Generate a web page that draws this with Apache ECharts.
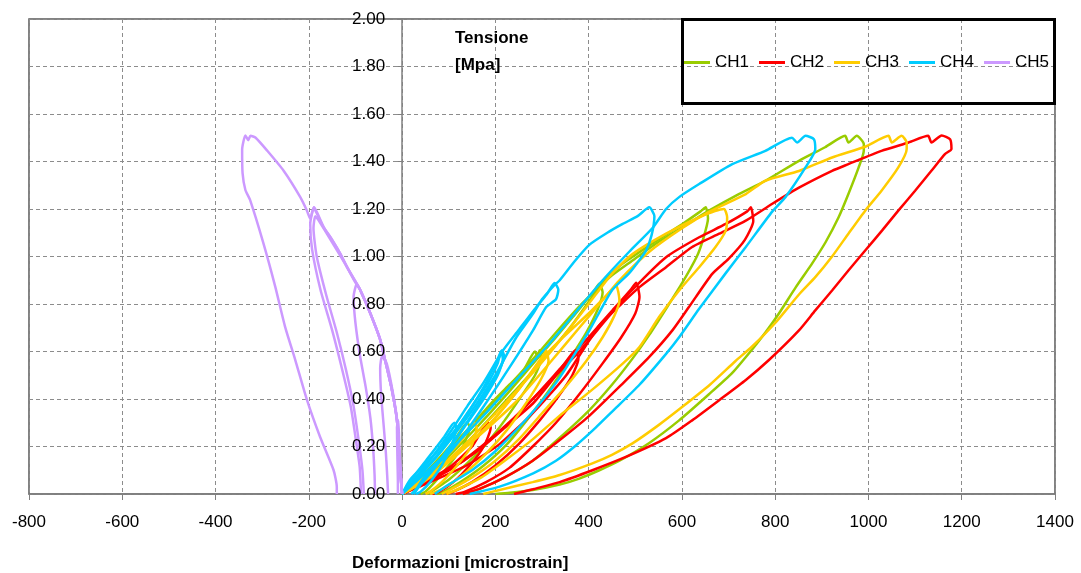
<!DOCTYPE html>
<html>
<head>
<meta charset="utf-8">
<script src="https://cdn.jsdelivr.net/npm/echarts@6/dist/echarts.min.js"></script>
<style>
html,body{margin:0;padding:0;background:#fff;}
#chart{width:1081px;height:573px;}
</style>
</head>
<body>
<div id="chart"></div>
<script>
// ---- DATA ----
const channelNames = ['CH1', 'CH2', 'CH3', 'CH4', 'CH5'];
const xTicks = { min: -800, max: 1400, step: 200 };
const yTicks = { min: 0, max: 2, step: 0.2 };

// CH1 (green): cycles to 0.3, 0.6, 0.9, 1.2, 1.5 MPa  [strain, stress]
const ch1Cycles = [
  [[0,0],[30,0.05],[70,0.13],[110,0.22],[140,0.3],[145,0.28],[130,0.2],[100,0.12],[70,0.05],[50,0.01],[40,0]],
  [[0,0],[30,0.04],[66,0.12],[110,0.21],[150,0.29],[190,0.38],[230,0.46],[260,0.52],[285,0.6],[290,0.58],[295,0.605],[298,0.57],[285,0.5],[255,0.41],[220,0.31],[180,0.21],[140,0.13],[100,0.06],[70,0.02],[55,0]],
  [[0,0],[30,0.04],[80,0.13],[140,0.26],[200,0.39],[250,0.5],[295,0.6],[330,0.68],[380,0.79],[410,0.85],[423,0.885],[430,0.85],[420,0.78],[395,0.68],[360,0.57],[320,0.45],[275,0.33],[225,0.21],[175,0.12],[125,0.05],[90,0.01],[75,0]],
  [[0,0],[30,0.04],[80,0.12],[150,0.26],[220,0.41],[290,0.57],[330,0.66],[366,0.745],[423,0.88],[473,0.97],[544,1.064],[601,1.137],[640,1.19],[651,1.207],[656,1.16],[645,1.07],[632,1.0],[601,0.89],[566,0.78],[530,0.67],[494,0.57],[450,0.46],[400,0.35],[340,0.24],[280,0.14],[220,0.07],[170,0.025],[130,0]],
  [[0,0],[40,0.05],[100,0.14],[170,0.28],[240,0.43],[300,0.56],[360,0.7],[423,0.87],[445,0.913],[494,0.983],[544,1.054],[601,1.123],[658,1.193],[722,1.263],[779,1.319],[851,1.403],[907,1.46],[950,1.508],[957,1.48],[975,1.508],[990,1.474],[990,1.445],[979,1.375],[957,1.263],[936,1.165],[908,1.06],[879,0.97],[844,0.87],[808,0.76],[779,0.68],[751,0.61],[708,0.51],[658,0.42],[594,0.31],[530,0.215],[466,0.14],[423,0.1],[380,0.065],[338,0.04],[280,0.017],[231,0.005],[200,0]]
];

// CH2 (red)
const ch2Cycles = [
  [[0,0],[40,0.04],[100,0.11],[150,0.2],[185,0.3],[190,0.28],[175,0.2],[145,0.12],[110,0.05],[80,0.01],[65,0]],
  [[0,0],[40,0.04],[100,0.1],[160,0.18],[220,0.28],[280,0.38],[330,0.5],[360,0.58],[372,0.605],[378,0.57],[365,0.5],[335,0.41],[295,0.31],[250,0.21],[200,0.12],[150,0.05],[110,0.01],[95,0]],
  [[0,0],[40,0.04],[100,0.1],[160,0.18],[220,0.28],[280,0.4],[340,0.53],[400,0.66],[451,0.773],[490,0.86],[502,0.89],[509,0.83],[500,0.76],[470,0.66],[430,0.55],[380,0.42],[330,0.3],[280,0.2],[230,0.11],[180,0.05],[135,0.01],[115,0]],
  [[0,0],[40,0.04],[100,0.1],[170,0.2],[240,0.32],[310,0.46],[380,0.6],[440,0.74],[494,0.86],[566,0.997],[637,1.081],[694,1.137],[740,1.19],[748,1.207],[753,1.15],[735,1.07],[700,0.99],[665,0.927],[615,0.787],[580,0.69],[530,0.577],[473,0.465],[402,0.33],[338,0.227],[280,0.14],[220,0.07],[170,0.025],[130,0]],
  [[0,0],[60,0.05],[138,0.12],[209,0.21],[280,0.34],[352,0.5],[423,0.71],[470,0.8],[509,0.871],[566,0.955],[622,1.04],[680,1.096],[737,1.151],[793,1.221],[851,1.29],[922,1.361],[957,1.389],[1028,1.445],[1086,1.48],[1128,1.508],[1135,1.48],[1157,1.51],[1175,1.494],[1178,1.453],[1164,1.431],[1135,1.361],[1100,1.277],[1064,1.193],[1029,1.109],[993,1.025],[957,0.941],[922,0.857],[886,0.773],[851,0.689],[786,0.563],[737,0.48],[680,0.395],[622,0.31],[566,0.235],[481,0.157],[408,0.1],[338,0.05],[280,0.02],[240,0]]
];

// CH3 (yellow)
const ch3Cycles = [
  [[0,0],[35,0.05],[80,0.13],[125,0.22],[155,0.3],[160,0.28],[148,0.2],[118,0.12],[85,0.05],[60,0.01],[50,0]],
  [[0,0],[50,0.06],[120,0.17],[190,0.3],[250,0.44],[290,0.55],[305,0.59],[309,0.605],[314,0.56],[297,0.48],[265,0.38],[225,0.27],[180,0.17],[130,0.08],[85,0.02],[60,0]],
  [[0,0],[50,0.06],[120,0.17],[190,0.3],[250,0.44],[300,0.57],[340,0.65],[400,0.76],[445,0.85],[459,0.878],[466,0.815],[455,0.75],[430,0.66],[395,0.56],[350,0.45],[300,0.34],[250,0.23],[200,0.14],[150,0.07],[105,0.02],[85,0]],
  [[0,0],[55,0.07],[130,0.2],[210,0.36],[280,0.51],[340,0.65],[400,0.8],[451,0.93],[494,1.01],[566,1.096],[637,1.165],[690,1.2],[697,1.165],[694,1.109],[672,1.04],[637,0.955],[594,0.857],[551,0.745],[509,0.619],[473,0.549],[402,0.43],[338,0.33],[280,0.23],[220,0.14],[170,0.07],[120,0.02],[95,0]],
  [[0,0],[60,0.07],[150,0.22],[240,0.38],[320,0.56],[380,0.7],[423,0.8],[466,0.9],[530,1.02],[601,1.12],[660,1.19],[737,1.263],[779,1.319],[851,1.36],[922,1.417],[993,1.462],[1043,1.508],[1050,1.48],[1071,1.508],[1082,1.48],[1082,1.453],[1064,1.375],[1028,1.277],[993,1.193],[957,1.096],[922,1.0],[886,0.913],[851,0.84],[800,0.72],[750,0.62],[715,0.56],[660,0.46],[601,0.367],[550,0.29],[494,0.213],[450,0.165],[408,0.129],[338,0.08],[280,0.05],[209,0.017],[174,0]]
];

// CH4 (cyan)
const ch4Cycles = [
  [[0,0],[20,0.06],[55,0.15],[90,0.24],[112,0.3],[116,0.28],[105,0.2],[85,0.12],[60,0.05],[40,0.01],[30,0]],
  [[0,0],[17,0.06],[66,0.16],[110,0.28],[140,0.37],[175,0.47],[205,0.57],[214,0.605],[219,0.58],[208,0.52],[185,0.44],[155,0.35],[125,0.26],[95,0.18],[65,0.1],[35,0.03],[20,0]],
  [[0,0],[25,0.06],[70,0.15],[115,0.27],[150,0.37],[185,0.47],[205,0.55],[212,0.6],[216,0.57],[205,0.5],[175,0.4],[140,0.3],[105,0.2],[70,0.11],[40,0.04],[25,0]],
  [[0,0],[25,0.06],[80,0.19],[130,0.31],[175,0.45],[215,0.6],[250,0.69],[285,0.78],[310,0.84],[327,0.888],[335,0.86],[330,0.82],[309,0.787],[281,0.69],[231,0.535],[174,0.366],[124,0.227],[95,0.16],[66,0.115],[40,0.05],[25,0]],
  [[0,0],[30,0.06],[80,0.17],[120,0.27],[160,0.38],[200,0.5],[245,0.66],[281,0.76],[300,0.82],[327,0.88],[338,0.9],[370,0.98],[402,1.05],[440,1.1],[473,1.137],[505,1.17],[530,1.207],[541,1.17],[535,1.09],[523,1.025],[505,0.975],[487,0.93],[451,0.86],[430,0.79],[402,0.69],[380,0.62],[338,0.49],[295,0.38],[250,0.28],[200,0.18],[150,0.1],[100,0.04],[70,0]],
  [[0,0],[40,0.07],[100,0.18],[170,0.32],[240,0.47],[310,0.62],[370,0.76],[430,0.9],[487,1.02],[537,1.12],[566,1.2],[594,1.25],[637,1.305],[708,1.389],[779,1.445],[836,1.5],[847,1.48],[865,1.508],[883,1.494],[886,1.452],[865,1.375],[822,1.25],[794,1.19],[737,1.04],[694,0.93],[637,0.78],[594,0.66],[566,0.59],[509,0.46],[452,0.35],[410,0.27],[370,0.2],[330,0.14],[281,0.087],[209,0.031],[145,0]]
];

// CH5 (violet, negative strain)
const ch5Cycles = [
  [[0,0],[-3,0.1],[-6,0.2],[-8,0.31],[-11,0.28],[-10,0.15],[-9,0.05],[-9,0]],
  [[0,0],[-4,0.1],[-10,0.3],[-20,0.43],[-33,0.55],[-43,0.58],[-47,0.53],[-45,0.42],[-40,0.3],[-35,0.18],[-32,0.08],[-30,0]],
  [[0,0],[-5,0.12],[-11,0.31],[-22,0.44],[-36,0.56],[-47,0.65],[-68,0.76],[-88,0.85],[-97,0.885],[-104,0.83],[-100,0.72],[-90,0.58],[-78,0.45],[-68,0.32],[-62,0.19],[-59,0.08],[-58,0]],
  [[0,0],[-5,0.12],[-11,0.31],[-22,0.44],[-36,0.56],[-47,0.65],[-68,0.76],[-90,0.86],[-100,0.89],[-118,0.955],[-132,1.01],[-150,1.07],[-168,1.123],[-185,1.19],[-189,1.207],[-197,1.137],[-193,1.03],[-175,0.86],[-150,0.69],[-128,0.52],[-110,0.367],[-98,0.213],[-91,0.115],[-88,0]],
  [[0,0],[-5,0.12],[-11,0.31],[-22,0.44],[-36,0.56],[-47,0.65],[-68,0.76],[-90,0.86],[-118,0.955],[-150,1.06],[-175,1.14],[-186,1.17],[-190,1.12],[-183,1.0],[-163,0.84],[-140,0.68],[-120,0.52],[-104,0.37],[-92,0.21],[-85,0.1],[-82,0]],
  [[0,0],[-5,0.12],[-11,0.31],[-22,0.44],[-36,0.56],[-47,0.65],[-68,0.76],[-90,0.86],[-97,0.885],[-118,0.955],[-132,1.01],[-150,1.07],[-168,1.123],[-189,1.207],[-197,1.16],[-204,1.193],[-218,1.249],[-254,1.361],[-289,1.445],[-314,1.5],[-325,1.508],[-330,1.49],[-336,1.51],[-343,1.45],[-342,1.35],[-336,1.28],[-326,1.238],[-297,1.053],[-272,0.873],[-251,0.705],[-229,0.564],[-204,0.396],[-176,0.241],[-147,0.101],[-140,0.03],[-140,0]]
];

// ---- STYLE ----
const colors = ['#99CC00', '#FF0000', '#FFCC00', '#00CCFF', '#CC99FF'];
const allCycles = [ch1Cycles, ch2Cycles, ch3Cycles, ch4Cycles, ch5Cycles];
const FONT = "'Liberation Sans', Arial, sans-serif";
const GRID = { left: 29, right: 26, top: 19, bottom: 79 };
const plotW = 1081 - GRID.left - GRID.right;
// pixel offset that puts the value axis at strain = 0
const yAxisOffset = -plotW * (0 - xTicks.min) / (xTicks.max - xTicks.min);

const series = [];
allCycles.forEach((cycles, ci) => {
  cycles.forEach(cyc => {
    series.push({
      type: 'line',
      name: channelNames[ci],
      data: cyc,
      yAxisIndex: 0,
      symbol: 'none',
      showSymbol: false,
      smooth: 0.2,
      lineStyle: { width: 2.5, color: colors[ci] },
      itemStyle: { color: colors[ci] },
      z: 2 + ci,
      animation: false
    });
  });
});

const chart = echarts.init(document.getElementById('chart'), null, { renderer: 'canvas' });
chart.setOption({
  animation: false,
  backgroundColor: '#fff',
  grid: Object.assign({ show: true, borderColor: '#5a5a5a', borderWidth: 1.5, backgroundColor: 'transparent', containLabel: false, outerBoundsMode: 'none' }, GRID),
  xAxis: {
    type: 'value', min: xTicks.min, max: xTicks.max, interval: xTicks.step,
    axisLine: { show: true, onZero: false, lineStyle: { color: '#808080', width: 1.5 } },
    axisTick: { show: true, length: 6, lineStyle: { color: '#808080' } },
    axisLabel: { fontSize: 17, color: '#000', margin: 20, fontFamily: FONT, formatter: v => String(v) },
    splitLine: { show: true, lineStyle: { color: '#8c8c8c', width: 1, type: [4, 3] } }
  },
  yAxis: [
    {
      type: 'value', min: yTicks.min, max: yTicks.max, interval: yTicks.step,
      position: 'left', offset: yAxisOffset,
      axisLine: { show: true, onZero: false, lineStyle: { color: '#808080', width: 1.5 } },
      axisTick: { show: true, length: 5, lineStyle: { color: '#808080' } },
      axisLabel: { show: false },
      splitLine: { show: true, lineStyle: { color: '#8c8c8c', width: 1, type: [4, 3] } }
    },
    {
      type: 'value', min: yTicks.min, max: yTicks.max, interval: yTicks.step,
      position: 'left', offset: yAxisOffset, z: 20,
      axisLine: { show: false, onZero: false },
      axisTick: { show: false },
      axisLabel: { fontSize: 17, color: '#000', margin: 17, fontFamily: FONT, formatter: v => v.toFixed(2) },
      splitLine: { show: false }
    }
  ],
  legend: {
    data: channelNames,
    left: 679, top: 49,
    icon: 'rect', itemWidth: 26, itemHeight: 3, itemGap: 10,
    textStyle: { fontSize: 17, color: '#000', fontFamily: FONT },
    selectedMode: false
  },
  graphic: [
    { type: 'rect', left: 681, top: 18, shape: { width: 372, height: 84 }, style: { fill: 'rgba(0,0,0,0)', stroke: '#000', lineWidth: 3 }, z: 100 },
    { type: 'text', left: 455, top: 30, style: { text: 'Tensione', font: "bold 17px " + FONT, fill: '#000' }, z: 100 },
    { type: 'text', left: 455, top: 57, style: { text: '[Mpa]', font: "bold 17px " + FONT, fill: '#000' }, z: 100 },
    { type: 'text', left: 352, top: 555, style: { text: 'Deformazioni [microstrain]', font: "bold 17px " + FONT, fill: '#000' }, z: 100 }
  ],
  series: series
});
</script>
</body>
</html>
